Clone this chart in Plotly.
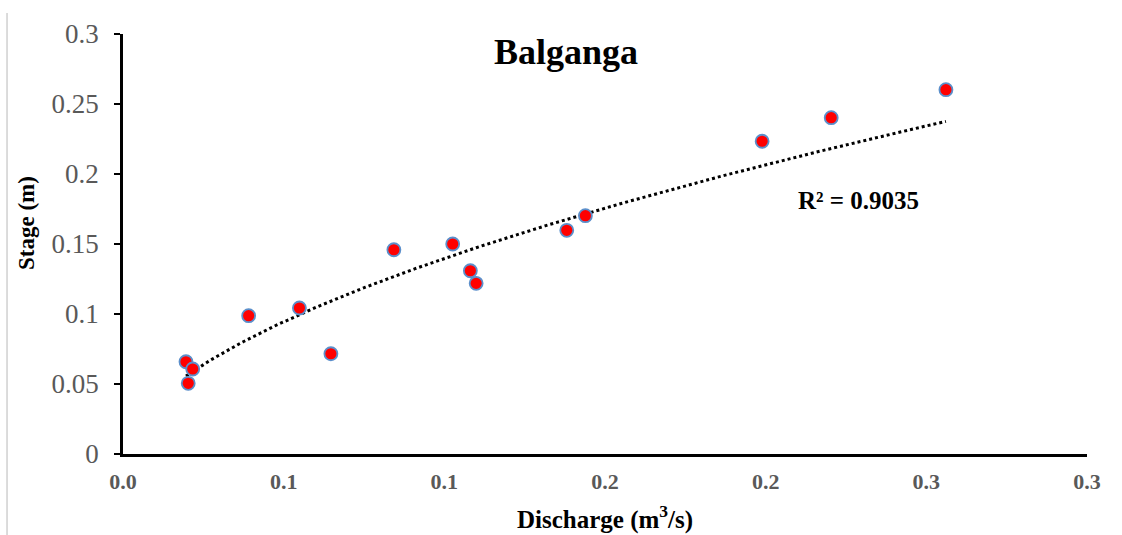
import numpy as np
import plotly.graph_objects as go

# Data
discharge = [0.0196, 0.0203, 0.0217, 0.0391, 0.0549, 0.0647, 0.0843, 0.1026,
             0.1081, 0.1099, 0.1381, 0.1439, 0.1989, 0.2204, 0.2561]
stage = [0.0659, 0.0505, 0.0607, 0.0988, 0.1043, 0.0716, 0.1459, 0.1500,
         0.1309, 0.1219, 0.1598, 0.1702, 0.2234, 0.2402, 0.2602]

x_tickvals = [0, 0.05, 0.10, 0.15, 0.20, 0.25, 0.30]
x_ticktext = ["0.0", "0.1", "0.1", "0.2", "0.2", "0.3", "0.3"]
y_tickvals = [0, 0.05, 0.10, 0.15, 0.20, 0.25, 0.30]
y_ticktext = ["0", "0.05", "0.1", "0.15", "0.2", "0.25", "0.3"]

chart_title = "Balganga"
r2_label = "R² = 0.9035"

# Power trendline (Excel-style) fitted from the data
lx = np.log(np.array(discharge))
ly = np.log(np.array(stage))
b, ln_a = np.polyfit(lx, ly, 1)
xt = np.linspace(min(discharge), max(discharge), 200)
yt = np.exp(ln_a) * xt ** b

serif = "Liberation Serif"

fig = go.Figure()
fig.add_trace(go.Scatter(
    x=xt, y=yt, mode="lines",
    line=dict(color="black", width=3, dash="dot"),
    hoverinfo="skip", showlegend=False))
fig.add_trace(go.Scatter(
    x=discharge, y=stage, mode="markers",
    marker=dict(size=13, color="#FF0000", line=dict(color="#5B8FCB", width=1.8)),
    showlegend=False))

fig.update_layout(
    width=1122, height=535,
    margin=dict(l=123, r=35, t=34, b=81),
    paper_bgcolor="white", plot_bgcolor="white",
    font=dict(family=serif),
    xaxis=dict(
        range=[0, 0.3], tickvals=x_tickvals, ticktext=x_ticktext,
        showgrid=False, zeroline=False, showline=True, linecolor="black", linewidth=2.5,
        ticks="", ticklabelstandoff=6,
        tickfont=dict(family=serif, size=22, color="#595959", weight="bold"),
    ),
    yaxis=dict(
        range=[0, 0.3], tickvals=y_tickvals, ticktext=y_ticktext,
        showgrid=False, zeroline=False, showline=True, linecolor="black", linewidth=2.5,
        ticks="outside", ticklen=6, tickwidth=2, tickcolor="black", ticklabelstandoff=10,
        tickfont=dict(family=serif, size=27, color="#595959"),
    ),
    annotations=[
        dict(text="<b>" + chart_title + "</b>", xref="paper", yref="paper",
             x=0.4595, y=0.957, xanchor="center", yanchor="middle", showarrow=False,
             font=dict(family=serif, size=36, color="black")),
        dict(text="<b>" + r2_label + "</b>", xref="x", yref="y",
             x=0.229, y=0.181, xanchor="center", yanchor="middle", showarrow=False,
             font=dict(family=serif, size=25, color="black")),
        dict(text="<b>Discharge (m<sup>3</sup>/s)</b>", xref="paper", yref="paper",
             x=0.5, y=0, yshift=-63, xanchor="center", yanchor="middle", showarrow=False,
             font=dict(family=serif, size=25, color="black")),
        dict(text="<b>Stage (m)</b>", xref="paper", yref="paper",
             x=0, xshift=-96, y=0.55, xanchor="center", yanchor="middle", showarrow=False,
             textangle=-90, font=dict(family=serif, size=23, color="black")),
    ],
    shapes=[
        dict(type="line", xref="paper", yref="paper", x0=-0.1203, x1=-0.1203,
             y0=1.05, y1=-0.2, line=dict(color="#d0d0d0", width=1.5)),
    ],
)

fig.write_html("out.html")
